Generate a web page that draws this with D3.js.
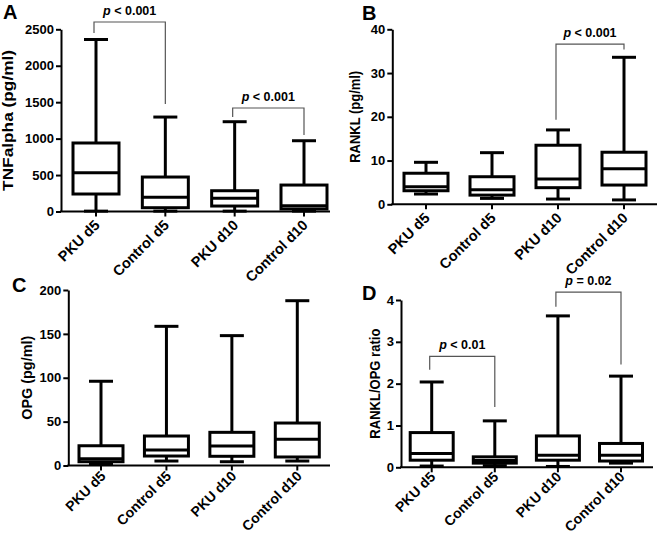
<!DOCTYPE html>
<html>
<head>
<meta charset="utf-8">
<script src="https://cdn.jsdelivr.net/npm/d3@7"></script>
<style>
body { margin: 0; background: #fff; }
svg { display: block; font-family: Arial, "Liberation Sans", sans-serif; }
</style>
</head>
<body>
<script>
// ---------------- DATA ----------------
const categories = ["PKU d5", "Control d5", "PKU d10", "Control d10"];

// five-number summaries: [min, Q1, median, Q3, max]
const tnfStats = [
  [5, 240, 532, 940, 2360],
  [5, 52, 195, 473, 1296],
  [5, 75, 181, 285, 1232],
  [5, 35, 80, 363, 971]
];
const ranklStats = [
  [2.35, 3.1, 4.0, 7.1, 9.6],
  [1.35, 2.1, 3.3, 6.3, 11.8],
  [1.2, 3.8, 5.8, 13.5, 17.0],
  [1.0, 4.4, 8.1, 11.9, 33.6]
];
const opgStats = [
  [2, 4.3, 7.8, 22.5, 96],
  [5.1, 10.8, 17.7, 33.6, 158.6],
  [4.3, 10.5, 22.2, 37.8, 148],
  [5.1, 9.7, 29.9, 48.4, 187.8]
];
const ratioStats = [
  [0.03, 0.17, 0.33, 0.83, 2.04],
  [0.04, 0.10, 0.16, 0.25, 1.11],
  [0.02, 0.17, 0.29, 0.75, 3.62],
  [0.10, 0.15, 0.29, 0.57, 2.18]
];

const tnfTicks = [0, 500, 1000, 1500, 2000, 2500];
const ranklTicks = [0, 10, 20, 30, 40];
const opgTicks = [0, 50, 100, 150, 200];
const ratioTicks = [0, 1, 2, 3, 4];

// significance brackets: [cat A, cat B, top value, left end value, right end value, label]
const tnfBrackets = [[0, 1, 2600, 2449, 1475, "< 0.001"], [2, 3, 1420, 1296, 1049, "< 0.001"]];
const ranklBrackets = [[2, 3, 36.6, 19.3, 35.4, "< 0.001"]];
const opgBrackets = [];
const ratioBrackets = [[0, 1, 2.65, 2.33, 1.44, "< 0.01"], [2, 3, 4.19, 3.84, 2.46, "= 0.02"]];

// ---------------- LAYOUT ----------------
const W = 661, H = 538;
const svg = d3.select("body").append("svg").attr("width", W).attr("height", H);

const panels = [
  { letter: "A", lx: 3, ly: 19, title: "TNFalpha (pg/ml)", tx: 13, tlen: 141,
    stats: tnfStats, ticks: tnfTicks, brackets: tnfBrackets, yMax: 2500,
    ax: 61, y0: 211.5, yTop: 29.3, c0: 96, c1: 304, xEnd: 330, bw: 46, lox: 1, loy: 11, lfs: 14.5 },
  { letter: "B", lx: 362, ly: 20, title: "RANKL (pg/ml)", tx: 360, tlen: 92,
    stats: ranklStats, ticks: ranklTicks, brackets: ranklBrackets, yMax: 40,
    ax: 392.3, y0: 204.3, yTop: 29.3, c0: 426, c1: 624, xEnd: 657, bw: 44, lox: 1, loy: 11, lfs: 14.5 },
  { letter: "C", lx: 12, ly: 292, title: "OPG (pg/ml)", tx: 32, tlen: 84,
    stats: opgStats, ticks: opgTicks, brackets: opgBrackets, yMax: 200,
    ax: 68.3, y0: 465.5, yTop: 290, c0: 101, c1: 297.3, xEnd: 330, bw: 44, lox: 2, loy: 8, lfs: 14 },
  { letter: "D", lx: 362, ly: 300, title: "RANKL/OPG ratio", tx: 380, tlen: 110,
    stats: ratioStats, ticks: ratioTicks, brackets: ratioBrackets, yMax: 4,
    ax: 401, y0: 467.3, yTop: 300, c0: 431.7, c1: 621, xEnd: 653, bw: 43, lox: 1, loy: 7, lfs: 14 }
];

function drawPanel(p) {
  const y = d3.scaleLinear().domain([0, p.yMax]).range([p.y0, p.yTop]);
  const x = d3.scalePoint().domain(categories).range([p.c0, p.c1]);
  const g = svg.append("g");

  // panel letter
  g.append("text").attr("x", p.lx).attr("y", p.ly)
    .attr("font-size", 20).attr("font-weight", "bold").text(p.letter);

  // y title
  const ymid = (p.y0 + p.yTop) / 2;
  g.append("text")
    .attr("transform", `translate(${p.tx},${ymid}) rotate(-90)`)
    .attr("text-anchor", "middle")
    .attr("font-size", 14).attr("font-weight", "bold")
    .attr("textLength", p.tlen).attr("lengthAdjust", "spacingAndGlyphs")
    .text(p.title);

  // y axis
  const ya = g.append("g").attr("transform", `translate(${p.ax},0)`)
    .call(d3.axisLeft(y).tickValues(p.ticks).tickSize(5).tickSizeOuter(0).tickPadding(2).tickFormat(d3.format("d")));
  ya.select(".domain").attr("stroke", "#000").attr("stroke-width", 2);
  ya.selectAll(".tick line").attr("stroke", "#000").attr("stroke-width", 2);
  ya.selectAll(".tick text").attr("font-size", 13).attr("font-weight", "bold")
    .attr("font-family", "Arial, 'Liberation Sans', sans-serif").attr("fill", "#000");

  // x axis line
  g.append("line").attr("x1", p.ax - 1).attr("x2", p.xEnd)
    .attr("y1", y(0)).attr("y2", y(0)).attr("stroke", "#000").attr("stroke-width", 2);

  // x ticks + labels
  categories.forEach(c => {
    const cx = x(c);
    g.append("line").attr("x1", cx).attr("x2", cx).attr("y1", y(0)).attr("y2", y(0) + 5)
      .attr("stroke", "#000").attr("stroke-width", 2);
    g.append("text")
      .attr("transform", `translate(${cx + p.lox},${y(0) + p.loy}) rotate(-45)`)
      .attr("text-anchor", "end").attr("dy", "0.35em")
      .attr("font-size", p.lfs).attr("font-weight", "bold")
      .text(c);
  });

  // boxes
  const capW = 24;
  p.stats.forEach((s, i) => {
    const cx = x(categories[i]);
    const [mn, q1, md, q3, mx] = s;
    const bg = g.append("g").attr("stroke", "#000").attr("stroke-width", 3).attr("fill", "none");
    bg.append("line").attr("x1", cx).attr("x2", cx).attr("y1", y(mn)).attr("y2", y(mx));
    bg.append("line").attr("x1", cx - capW / 2).attr("x2", cx + capW / 2).attr("y1", y(mx)).attr("y2", y(mx));
    bg.append("line").attr("x1", cx - capW / 2).attr("x2", cx + capW / 2).attr("y1", y(mn)).attr("y2", y(mn));
    bg.append("rect").attr("x", cx - p.bw / 2).attr("width", p.bw)
      .attr("y", y(q3)).attr("height", y(q1) - y(q3)).attr("fill", "#fff");
    bg.append("line").attr("x1", cx - p.bw / 2).attr("x2", cx + p.bw / 2).attr("y1", y(md)).attr("y2", y(md));
  });

  // brackets
  p.brackets.forEach(b => {
    const xa = x(categories[b[0]]) - 2, xb = x(categories[b[1]]);
    g.append("path")
      .attr("d", `M${xa},${y(b[3])}V${y(b[2])}H${xb}V${y(b[4])}`)
      .attr("fill", "none").attr("stroke", "#555").attr("stroke-width", 1.2);
    const t = g.append("text").attr("x", (xa + xb) / 2).attr("y", y(b[2]) - 7)
      .attr("text-anchor", "middle").attr("font-size", 12.5).attr("font-weight", "bold");
    t.append("tspan").attr("font-style", "italic").text("p");
    t.append("tspan").text(" " + b[5]);
  });
}

panels.forEach(drawPanel);
</script>
</body>
</html>
